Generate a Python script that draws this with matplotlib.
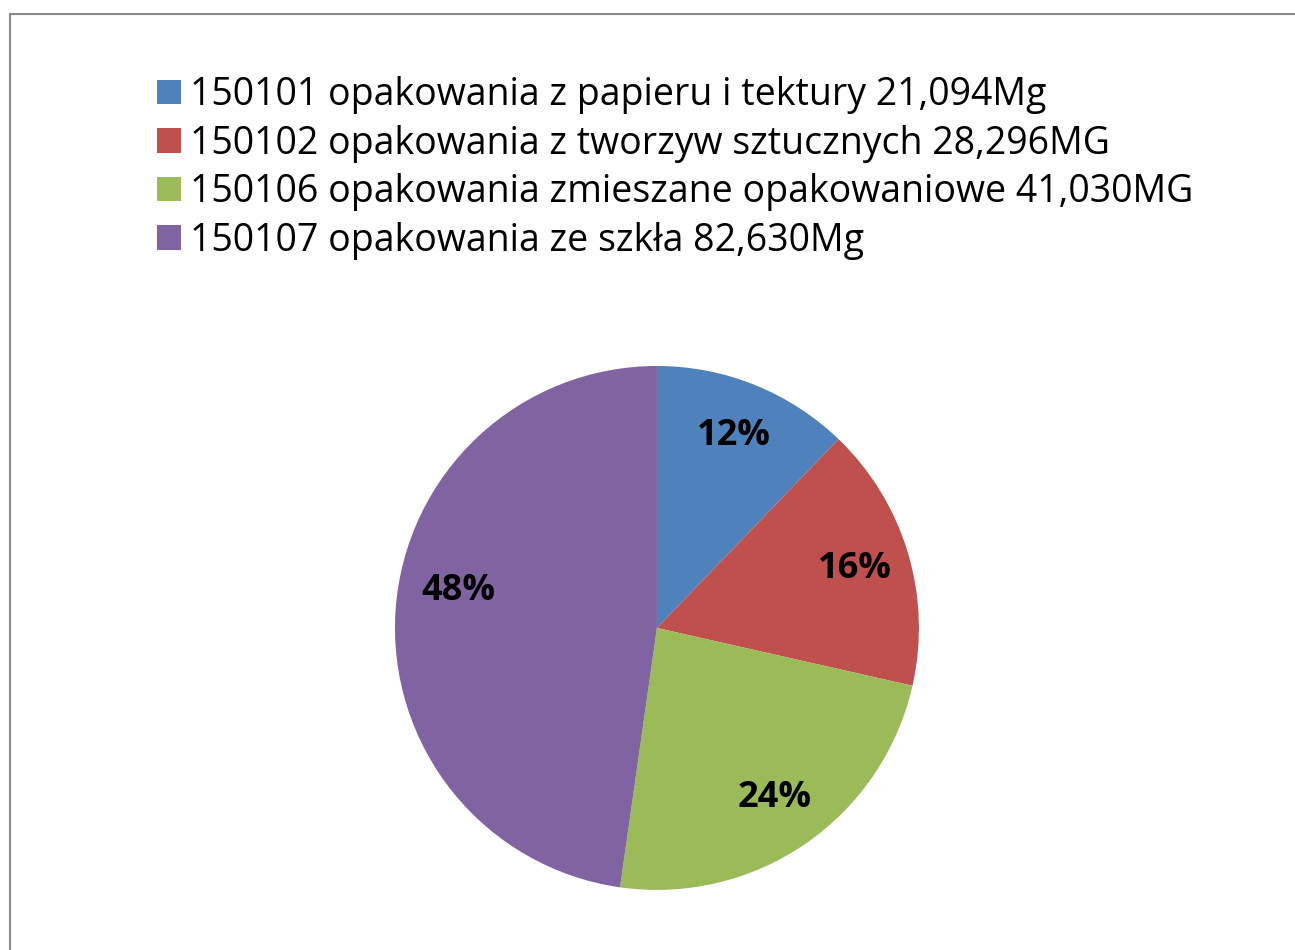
import numpy as np
import matplotlib.pyplot as plt
from matplotlib.patches import Rectangle

plt.rcParams['font.family'] = ['Open Sans', 'DejaVu Sans']

labels = ["150101 opakowania z papieru i tektury 21,094Mg",
          "150102 opakowania z tworzyw sztucznych 28,296MG",
          "150106 opakowania zmieszane opakowaniowe 41,030MG",
          "150107 opakowania ze szkła 82,630Mg"]
values = [21.094, 28.296, 41.030, 82.630]
colors = ["#4F81BD", "#C0504D", "#9BBB59", "#8064A2"]

fig = plt.figure(figsize=(12.95, 9.5), dpi=100)

# chart area border (only left/top visible in the crop)
fig.patches.append(Rectangle((10 / 1295, -0.1), 1.2, 1 - 14 / 950 + 0.1,
                             transform=fig.transFigure, fill=False,
                             edgecolor="#898989", linewidth=1.5))

ax = fig.add_axes([0.305, 0.0632, 0.4046, 0.5516])
wedges, texts = ax.pie(values, colors=colors, startangle=90, counterclock=False,
                       labels=["%.0f%%" % (v / sum(values) * 100) for v in values],
                       labeldistance=0.79,
                       textprops=dict(fontsize=26, fontweight="bold", color="black",
                                      ha="center", va="center"))
# excel "best fit" puts the big slice label a bit higher
a = np.deg2rad(169.5)
texts[3].set_position((0.77 * np.cos(a), 0.77 * np.sin(a)))
ax.set_xlim(-1, 1)
ax.set_ylim(-1, 1)
ax.set_aspect("equal")

leg = fig.legend(wedges, labels, loc="upper left", bbox_to_anchor=(0.1065, 0.9395),
                 frameon=False, fontsize=27, handlelength=0.64, handleheight=0.64,
                 handletextpad=0.26, labelspacing=0.28, borderpad=0)

fig.savefig("out.png", dpi=100)
